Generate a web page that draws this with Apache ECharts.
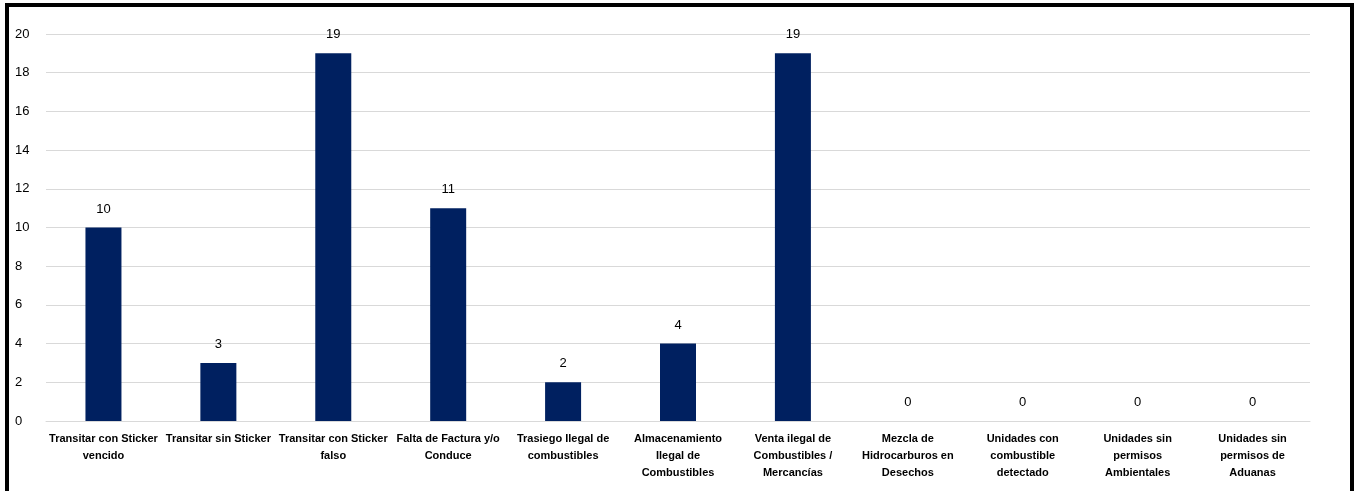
<!DOCTYPE html>
<html><head><meta charset="utf-8">
<script src="https://cdn.jsdelivr.net/npm/echarts@6/dist/echarts.min.js"></script>
<style>
html,body{margin:0;padding:0;background:#fff;width:1358px;height:491px;overflow:hidden;}
#frame{position:absolute;left:5px;top:3px;width:1349px;height:500px;border:4px solid #000;box-sizing:border-box;}
#chart{position:absolute;left:0;top:0;width:1358px;height:491px;}
</style></head><body>
<div id="frame"></div>
<div id="chart"></div>
<script>
const categories = [
  "Transitar con Sticker\nvencido",
  "Transitar sin Sticker",
  "Transitar con Sticker\nfalso",
  "Falta de Factura y/o\nConduce",
  "Trasiego Ilegal de\ncombustibles",
  "Almacenamiento\nIlegal de\nCombustibles",
  "Venta ilegal de\nCombustibles /\nMercancías",
  "Mezcla de\nHidrocarburos en\nDesechos",
  "Unidades con\ncombustible\ndetectado",
  "Unidades sin\npermisos\nAmbientales",
  "Unidades sin\npermisos de\nAduanas"
];
const values = [10, 3, 19, 11, 2, 4, 19, 0, 0, 0, 0];
const yTicks = [0, 2, 4, 6, 8, 10, 12, 14, 16, 18, 20];

const chart = echarts.init(document.getElementById('chart'), null, {renderer:'canvas'});
chart.setOption({
  animation:false,
  grid:{left:46, right:48, top:34, bottom:70, containLabel:false},
  xAxis:{
    type:'category', data:categories,
    axisLine:{show:true, lineStyle:{color:'#d9d9d9', width:1}},
    axisTick:{show:false},
    axisLabel:{interval:0, fontFamily:'Liberation Sans Narrow, Arial Narrow, sans-serif', fontWeight:'bold', fontSize:11, color:'#000', lineHeight:17, margin:9}
  },
  yAxis:{
    type:'value', min:yTicks[0], max:yTicks[yTicks.length-1], interval:2,
    axisLine:{show:false}, axisTick:{show:false},
    splitLine:{lineStyle:{color:'#d9d9d9', width:1}},
    axisLabel:{fontFamily:'Liberation Sans, Arial, sans-serif', fontSize:13, color:'#000', align:'left', margin:31}
  },
  series:[{
    type:'bar', data:values, barWidth:36,
    itemStyle:{color:'#002060'},
    label:{show:true, position:'top', distance:12, fontFamily:'Liberation Sans, Arial, sans-serif', fontSize:13, color:'#000'}
  }]
});
</script>
</body></html>
